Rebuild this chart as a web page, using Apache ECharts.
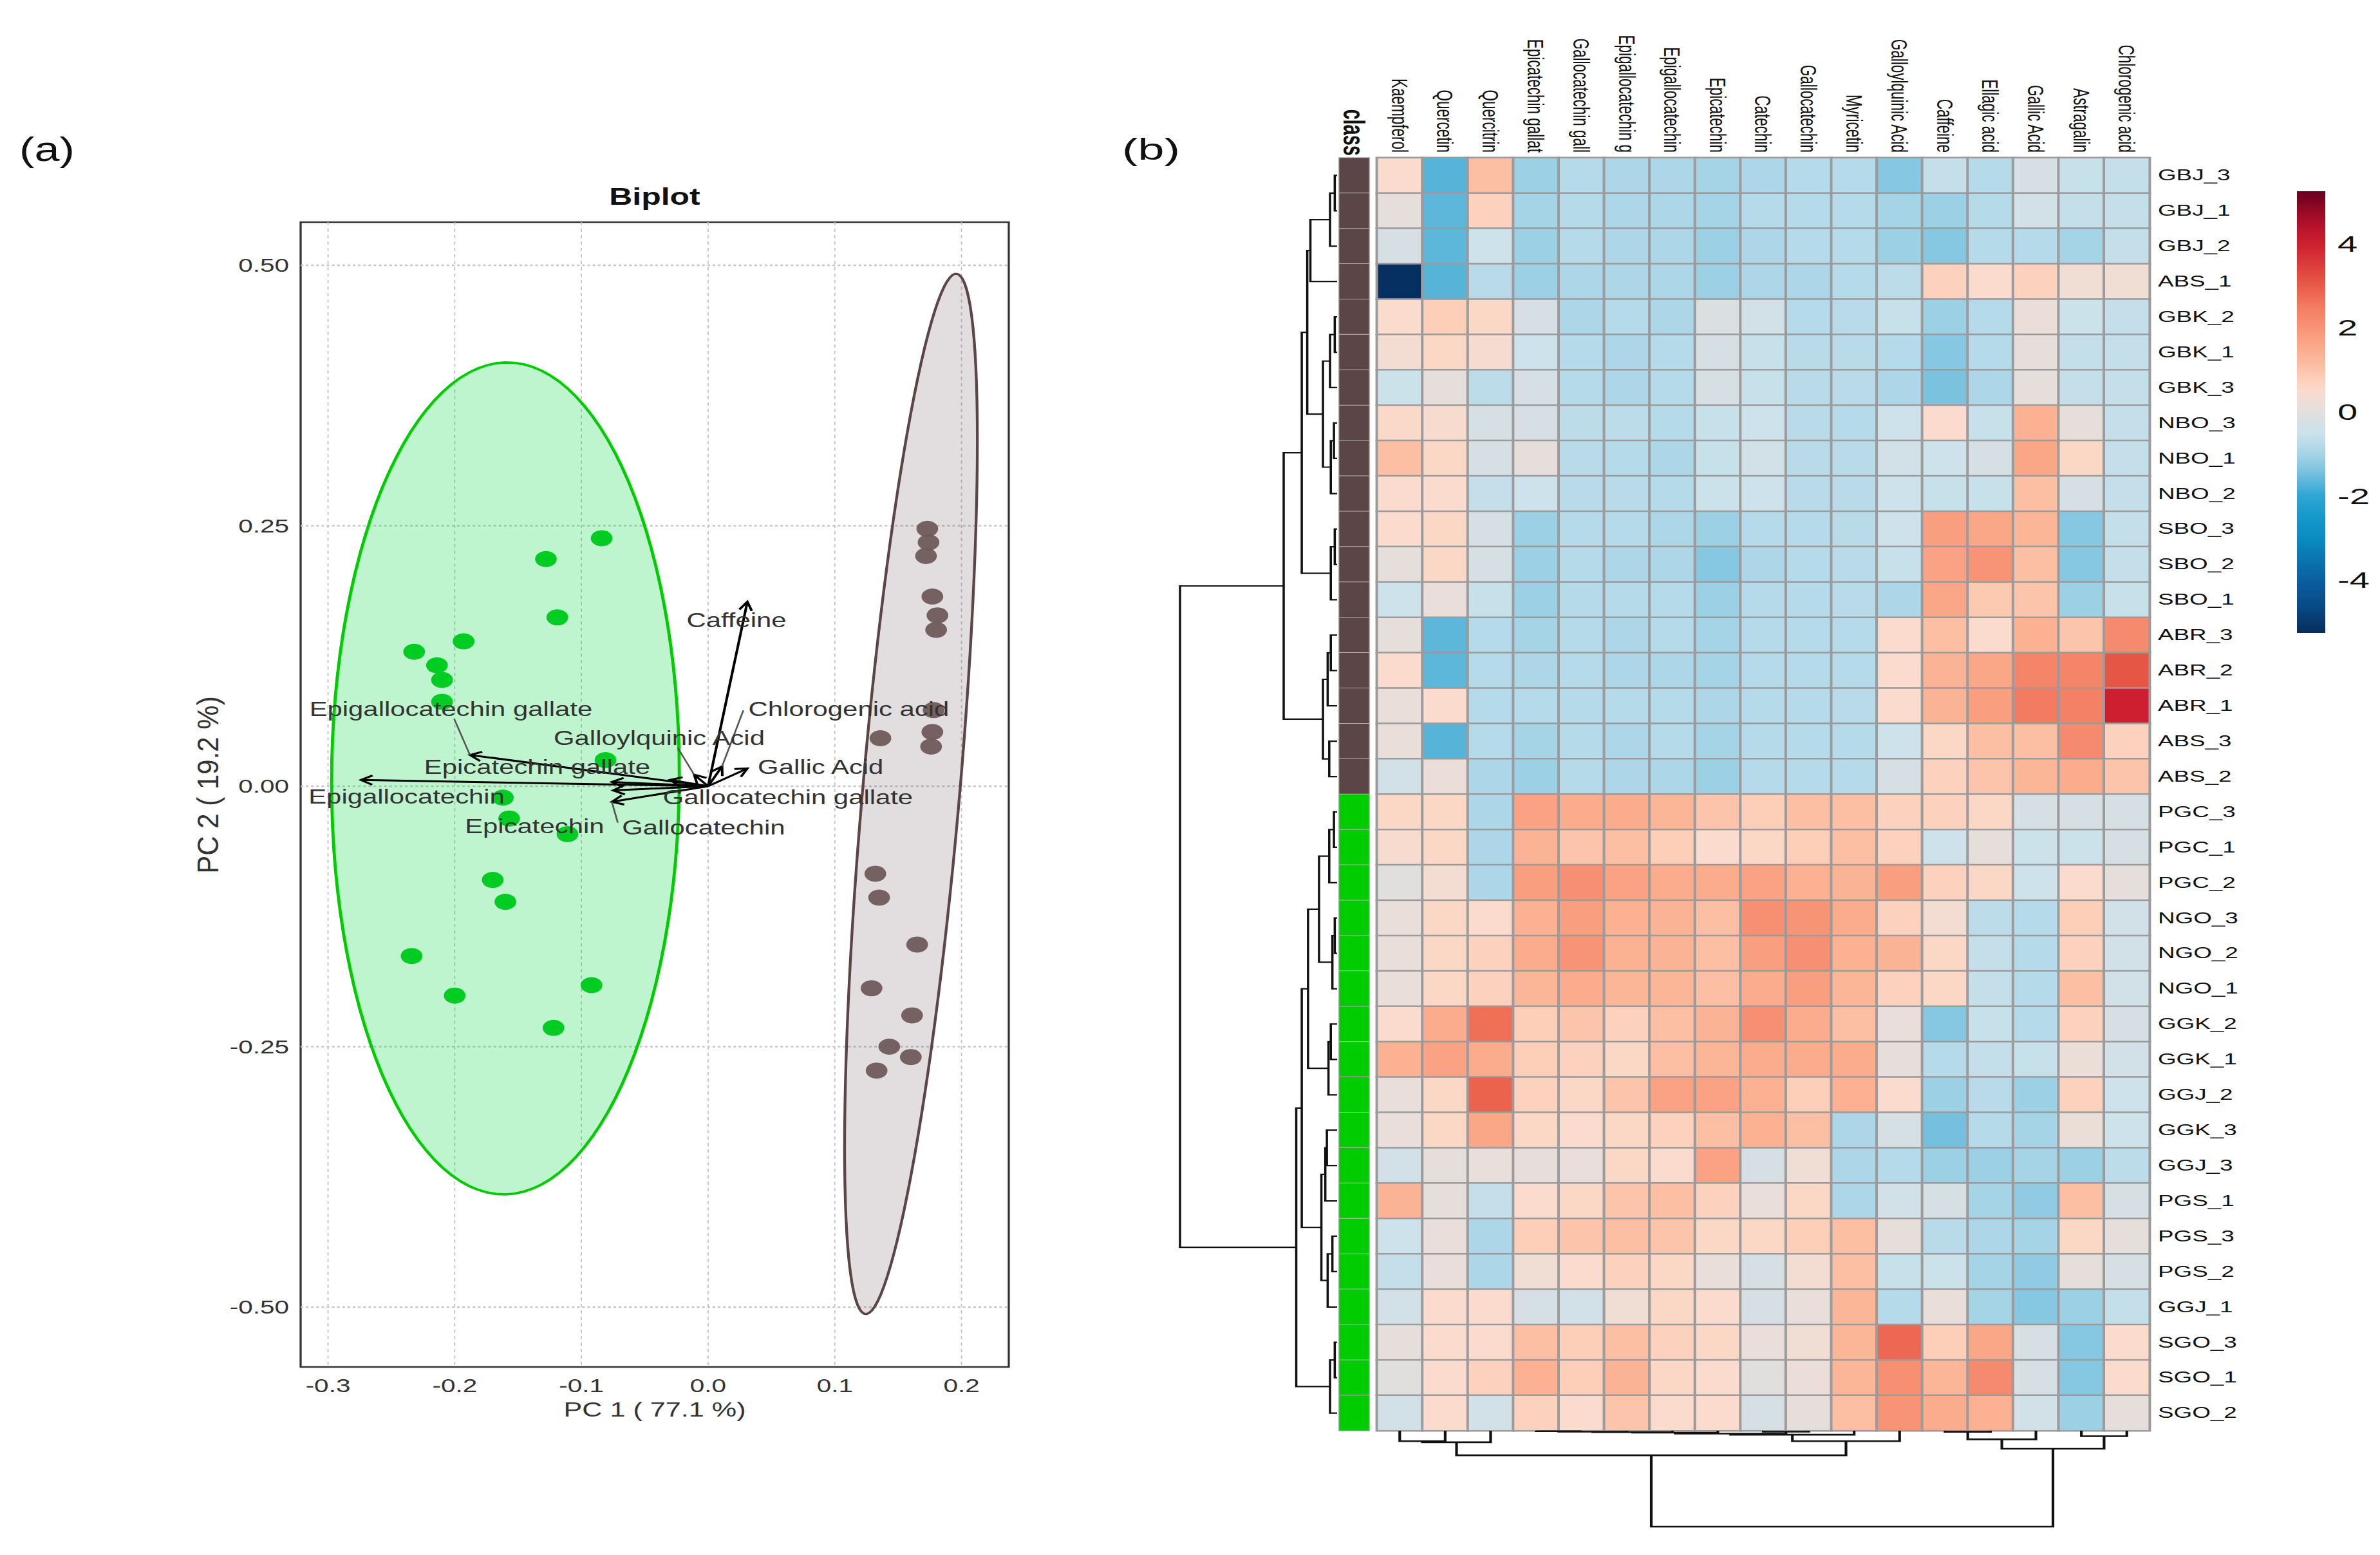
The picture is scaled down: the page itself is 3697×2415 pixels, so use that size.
<!DOCTYPE html>
<html>
<head>
<meta charset="utf-8">
<title>PCA biplot and clustered heatmap</title>
<script src="https://cdn.jsdelivr.net/npm/echarts@6.0.0/dist/echarts.min.js"></script>
<style>
html, body { margin:0; padding:0; background:#ffffff; width:3697px; height:2415px; overflow:hidden; position:relative; }
.panel { position:absolute; top:0; height:2415px; transform-origin:0 0; }
</style>
</head>
<body>
<div id="panelA" class="panel"></div>
<div id="panelB" class="panel"></div>
<script>
// ================= DATA =================
// (a) PCA scores
const pcGreenX = [-0.084,-0.128,-0.119,-0.193,-0.232,-0.214,-0.210,-0.210,-0.081,-0.162,-0.157,-0.111,-0.170,-0.160,-0.234,-0.200,-0.092,-0.122];
const pcGreenY = [0.238,0.218,0.162,0.139,0.129,0.116,0.102,0.081,0.025,-0.011,-0.031,-0.046,-0.090,-0.111,-0.163,-0.201,-0.191,-0.232];
const pcBrownX = [0.173,0.174,0.172,0.177,0.181,0.180,0.178,0.177,0.176,0.136,0.132,0.135,0.165,0.129,0.161,0.143,0.160,0.133];
const pcBrownY = [0.247,0.234,0.221,0.182,0.164,0.150,0.073,0.052,0.038,0.046,-0.084,-0.107,-0.152,-0.194,-0.220,-0.250,-0.260,-0.273];
// 95% normal ellipse: F quantile qf(0.95, 2, n-1) with n = 18
const ellipseF = 3.5915;

// (a) variable loadings (arrow tips) and repelled label positions
const loadNames = ['Caffeine','Chlorogenic acid','Galloylquinic Acid','Gallic Acid','Gallocatechin gallate','Gallocatechin','Epicatechin','Epigallocatechin','Epicatechin gallate','Epigallocatechin gallate'];
const loadX = [0.031, 0.011, -0.011, 0.031, -0.030, -0.076, -0.075, -0.274, -0.076, -0.188];
const loadY = [0.177, 0.019, 0.011, 0.017, 0.006, -0.015, -0.004, 0.006, 0.004, 0.030];
const labelX = [0.0224, 0.111, -0.0386, 0.0888, 0.063, -0.0036, -0.137, -0.238, -0.1349, -0.203];
const labelY = [0.159, 0.0737, 0.046, 0.018, -0.011, -0.0396, -0.0384, -0.0105, 0.018, 0.0737];
// label connector start points (null = no connector)
const segX = [null, 0.0278, -0.0239, null, null, -0.0713, null, null, null, -0.2004];
const segY = [null, 0.0727, 0.0367, null, null, -0.035, null, null, null, 0.0646];

// (a) axes
const pcXMin = -0.3216, pcXMax = 0.2373, pcYMin = -0.5575, pcYMax = 0.5414;
const pcXTicks = [-0.3, -0.2, -0.1, 0, 0.1, 0.2];
const pcYTicks = [-0.5, -0.25, 0, 0.25, 0.5];

// (b) heatmap
const rowNames = ['GBJ_3','GBJ_1','GBJ_2','ABS_1','GBK_2','GBK_1','GBK_3','NBO_3','NBO_1','NBO_2','SBO_3','SBO_2','SBO_1','ABR_3','ABR_2','ABR_1','ABS_3','ABS_2','PGC_3','PGC_1','PGC_2','NGO_3','NGO_2','NGO_1','GGK_2','GGK_1','GGJ_2','GGK_3','GGJ_3','PGS_1','PGS_3','PGS_2','GGJ_1','SGO_3','SGO_1','SGO_2'];
const rowClass = [0,0,0,0,0,0,0,0,0,0,0,0,0,0,0,0,0,0, 1,1,1,1,1,1,1,1,1,1,1,1,1,1,1,1,1,1];
const colNames = ['Kaempferol','Quercetin','Quercitrin','Epicatechin gallat','Gallocatechin gall','Epigallocatechin g','Epigallocatechin','Epicatechin','Catechin','Gallocatechin','Myricetin','Galloylquinic Acid','Caffeine','Ellagic acid','Gallic Acid','Astragalin','Chlorogenic acid'];
const heatValues = [
  [0.5,-1.7,1.1,-1.1,-0.8,-0.9,-0.9,-1.0,-0.9,-0.8,-0.8,-1.3,-0.6,-0.8,-0.25,-0.55,-0.6],
  [0.1,-1.65,0.7,-1.0,-0.8,-0.9,-0.9,-1.0,-0.8,-0.8,-0.8,-1.0,-1.1,-0.8,-0.35,-0.6,-0.6],
  [-0.25,-1.65,-0.45,-1.1,-0.8,-0.9,-0.9,-1.1,-0.9,-0.8,-0.8,-1.1,-1.3,-0.8,-0.8,-1.0,-0.6],
  [-5.2,-1.7,-0.75,-1.1,-0.9,-0.9,-0.9,-1.1,-0.9,-0.9,-0.8,-0.7,0.7,0.5,0.7,0.3,0.3],
  [0.5,0.8,0.6,-0.25,-0.9,-0.8,-0.9,-0.15,-0.35,-0.8,-0.75,-0.55,-1.1,-0.8,0.2,-0.5,-0.6],
  [0.35,0.6,0.4,-0.45,-0.8,-0.9,-0.8,-0.25,-0.55,-0.75,-0.75,-0.8,-1.3,-0.8,0.1,-0.6,-0.6],
  [-0.5,0.1,-0.7,-0.25,-0.8,-0.9,-0.8,-0.25,-0.55,-0.75,-0.75,-0.9,-1.4,-0.9,0.1,-0.6,-0.6],
  [0.55,0.45,-0.25,-0.25,-0.7,-0.7,-0.8,-0.55,-0.45,-0.75,-0.8,-0.45,0.5,-0.55,1.4,0.1,-0.6],
  [1.1,0.6,-0.25,0.1,-0.75,-0.8,-0.9,-0.55,-0.35,-0.75,-0.75,-0.35,-0.45,-0.25,1.6,0.6,-0.6],
  [0.5,0.5,-0.6,-0.45,-0.75,-0.75,-0.8,-0.5,-0.45,-0.75,-0.75,-0.45,-0.55,-0.55,1.1,-0.25,-0.6],
  [0.5,0.6,-0.25,-1.1,-0.8,-0.8,-0.9,-1.1,-0.8,-0.8,-0.75,-0.45,1.8,1.6,1.3,-1.3,-0.6],
  [0.1,0.6,-0.25,-1.1,-0.8,-0.9,-0.9,-1.3,-0.9,-0.8,-0.75,-0.55,1.7,2.0,1.1,-1.3,-0.6],
  [-0.45,0.15,-0.55,-1.1,-0.8,-0.8,-0.8,-1.1,-0.8,-0.8,-0.75,-0.9,1.6,0.9,1.0,-1.1,-0.55],
  [0.1,-1.65,-0.8,-1.0,-0.8,-0.9,-0.8,-1.0,-0.8,-0.8,-0.8,0.5,1.1,0.5,1.4,1.0,2.2],
  [0.5,-1.65,-0.8,-0.9,-0.8,-0.9,-0.9,-1.0,-0.8,-0.8,-0.8,0.5,1.35,1.6,2.3,2.3,3.1],
  [0.15,0.5,-0.8,-0.8,-0.8,-0.8,-0.8,-0.9,-0.8,-0.8,-0.75,0.5,1.35,1.8,2.5,2.4,4.0],
  [0.15,-1.7,-0.8,-1.0,-0.8,-0.9,-0.8,-1.0,-0.8,-0.8,-0.8,-0.45,0.6,1.1,1.1,2.2,0.7],
  [-0.35,0.2,-0.9,-1.1,-0.8,-0.9,-0.9,-1.1,-0.8,-0.8,-0.8,-0.25,0.7,1.0,1.3,1.5,1.0],
  [0.6,0.6,-0.9,1.7,1.5,1.5,1.3,1.0,0.8,1.1,1.1,0.7,0.7,0.6,-0.25,-0.25,-0.25],
  [0.45,0.6,-0.9,1.35,1.0,1.1,0.8,0.5,0.6,0.8,1.1,0.7,-0.45,0.1,-0.5,-0.5,-0.25],
  [0.0,0.35,-0.9,1.8,2.1,1.7,1.5,1.5,1.7,1.4,1.35,1.8,0.7,0.6,-0.45,0.5,0.1],
  [0.15,0.6,0.5,1.4,1.8,1.4,1.35,1.1,2.1,2.0,1.5,0.7,0.35,-0.7,-0.8,0.8,-0.35],
  [0.15,0.6,0.7,1.5,2.0,1.4,1.35,1.1,1.8,2.1,1.4,1.35,0.6,-0.6,-0.8,0.7,-0.35],
  [0.15,0.6,0.7,1.3,1.5,1.3,1.3,1.1,1.5,1.8,1.3,0.7,0.6,-0.6,-0.8,1.1,-0.35],
  [0.5,1.5,2.7,0.8,1.0,0.7,1.1,1.35,2.1,1.5,1.1,0.15,-1.3,-0.55,-0.8,0.7,-0.25],
  [1.4,1.7,1.5,0.8,0.7,0.6,1.1,1.3,1.5,1.5,1.5,0.1,-0.8,-0.6,-0.55,0.2,-0.35],
  [0.15,0.6,2.9,0.7,0.6,1.0,1.7,1.7,1.4,0.8,1.4,0.5,-1.1,-0.75,-1.1,0.7,-0.45],
  [0.15,0.6,1.6,0.6,0.5,0.6,0.7,1.1,1.4,1.1,-0.9,-0.25,-1.45,-0.8,-1.0,0.2,-0.45],
  [-0.35,0.1,0.15,0.1,0.15,0.6,0.5,1.7,-0.25,0.3,-0.9,-0.8,-1.1,-1.1,-1.0,-1.1,-0.7],
  [1.35,0.1,-0.6,0.5,0.6,1.0,1.1,0.7,0.15,0.6,-0.9,-0.35,-0.25,-1.0,-1.2,1.1,-0.25],
  [-0.45,0.15,-0.9,0.8,1.0,1.1,1.0,0.6,0.6,0.8,1.1,0.1,-0.75,-0.9,-1.0,0.6,0.1],
  [-0.6,0.15,-0.9,0.3,0.5,0.7,0.6,0.15,-0.25,0.35,1.1,-0.55,-0.5,-1.0,-1.2,0.1,-0.25],
  [-0.35,0.5,0.5,-0.25,-0.35,0.3,0.6,0.5,-0.25,0.15,1.3,-0.8,0.15,-1.0,-1.3,-1.1,-0.6],
  [0.1,0.5,0.5,1.1,0.8,1.1,0.7,0.6,0.15,0.3,1.3,2.8,0.8,1.6,-0.25,-1.3,0.5],
  [0.0,0.5,0.7,1.4,0.8,1.35,0.6,0.5,0.0,0.2,1.3,2.1,1.3,2.2,-0.25,-1.3,0.5],
  [-0.35,0.5,-0.35,0.7,0.5,1.0,0.5,0.5,-0.25,0.1,1.1,2.0,1.5,1.4,-0.35,-1.1,0.1]
];
// row dendrogram (hclust-style merges: negative = leaf, positive = earlier merge)
const rowMergeA = [-1, 1, 2, -5, 4, -8, 6, 5, 3, -11, 10, 9, -14, 13, -17, 14, 12, -19, 18, -22, 20, 19, -25, 23, 22, -28, 26, -31, 28, 27, 25, -34, 32, 31, 17];
const rowMergeB = [-2, -3, -4, -6, -7, -9, -10, 7, 8, -12, -13, 11, -15, -16, -18, 15, 16, -20, -21, -23, -24, 21, -26, -27, 24, -29, -30, -32, -33, 29, 30, -35, -36, 33, 34];
const rowMergeH = [1.5, 4.5, 17, 1.5, 4.5, 2, 4, 9, 19, 1.5, 4, 22.5, 4, 6, 5, 9, 34, 2, 5, 1.5, 3, 11.5, 4, 5.5, 18.5, 6.5, 7.5, 3, 6, 10, 22.5, 1.5, 4.5, 26, 100];
// column dendrogram
const colMergeA = [-4, 1, 2, 3, -9, 4, 6, 7, -1, 9, 10, -13, 12, -16, 13, 11];
const colMergeB = [-5, -6, -7, -8, -10, 5, -11, -12, -2, -3, 8, -14, -15, -17, 14, 15];
const colMergeH = [0.5, 1, 1.5, 2, 1, 3, 4.1, 10.9, 10.9, 12, 25.6, 1.1, 9, 5.7, 18.8, 100];
// colour scale
const scaleMin = -5.25, scaleMax = 5.25;
const colorbarTicks = [4, 2, 0, -2, -4];
const paletteStops = [[-5.25,'#062E5E'],[-4.6,'#084A86'],[-4,'#0A5FA0'],[-3,'#0A8BC2'],[-2.5,'#1598CA'],[-2,'#2EA6D3'],[-1.5,'#70BEDD'],[-1,'#A6D4E7'],[-0.5,'#CBE2EB'],[-0.25,'#D6E0E4'],[0,'#E1DFDE'],[0.25,'#EEDDD6'],[0.5,'#FADBCD'],[0.75,'#FDD0BB'],[1,'#FCC4AA'],[1.5,'#FBAC8C'],[2,'#F89476'],[2.5,'#F37B61'],[3,'#E95C48'],[3.5,'#DC3C3B'],[4,'#CD1F2F'],[4.5,'#B0102A'],[5.25,'#67001F']];
const classColors = ['#5C4546', '#00CC00'];

// ================= LAYOUT / STYLE =================
// The reference figure is horizontally stretched; each panel is drawn narrower and stretched back.
const STRETCH_A = 1.35, SPLIT = 1700, STRETCH_B = 1.6;
const pxA = v => v / STRETCH_A;              // reference x-pixels -> panel (a) layout pixels
const pxB = v => (v - SPLIT) / STRETCH_B;    // reference x-pixels -> panel (b) layout pixels
const FONT = 'Liberation Sans, Arial, Helvetica, sans-serif';

const domA = document.getElementById('panelA');
domA.style.left = '0px';
domA.style.width = (SPLIT / STRETCH_A) + 'px';
domA.style.transform = 'scaleX(' + STRETCH_A + ')';
const domB = document.getElementById('panelB');
domB.style.left = SPLIT + 'px';
domB.style.width = ((3697 - SPLIT) / STRETCH_B) + 'px';
domB.style.transform = 'scaleX(' + STRETCH_B + ')';
const chartA = echarts.init(domA, null, {renderer: 'svg'});
const chartB = echarts.init(domB, null, {renderer: 'svg'});

// ---------- helpers ----------
function hexToRgb(h) { return [parseInt(h.substr(1,2),16), parseInt(h.substr(3,2),16), parseInt(h.substr(5,2),16)]; }
function colorAt(v) {
  for (let i = 0; i < paletteStops.length - 1; i++) {
    const a = paletteStops[i], b = paletteStops[i+1];
    if (v <= b[0]) {
      const t = (v - a[0]) / (b[0] - a[0]);
      const ca = hexToRgb(a[1]), cb = hexToRgb(b[1]);
      return 'rgb(' + ca.map((c, k) => Math.round(c + (cb[k] - c) * t)).join(',') + ')';
    }
  }
  return paletteStops[paletteStops.length-1][1];
}
const denseColors = [];
for (let i = 0; i <= 210; i++) denseColors.push(colorAt(scaleMin + (scaleMax - scaleMin) * i / 210));

function ellipsePolygon(xs, ys) {
  const n = xs.length;
  const mx = xs.reduce((s, v) => s + v, 0) / n, my = ys.reduce((s, v) => s + v, 0) / n;
  let sxx = 0, syy = 0, sxy = 0;
  for (let i = 0; i < n; i++) { sxx += (xs[i]-mx)*(xs[i]-mx); syy += (ys[i]-my)*(ys[i]-my); sxy += (xs[i]-mx)*(ys[i]-my); }
  sxx /= (n-1); syy /= (n-1); sxy /= (n-1);
  const r = Math.sqrt(2 * ellipseF);
  const a = Math.sqrt(sxx), b = sxy / a, c = Math.sqrt(syy - b*b);
  const pts = [];
  for (let k = 0; k < 120; k++) {
    const t = 2 * Math.PI * k / 120;
    pts.push([mx + r * Math.cos(t) * a, my + r * (Math.cos(t) * b + Math.sin(t) * c)]);
  }
  return pts;
}
const greenEllipse = ellipsePolygon(pcGreenX, pcGreenY);
const brownEllipse = ellipsePolygon(pcBrownX, pcBrownY);

function buildDendro(A, B, H) {
  const pos = [], hgt = [], items = [];
  const get = i => i < 0 ? [-i - 1, 0] : [pos[i-1], hgt[i-1]];
  for (let k = 0; k < A.length; k++) {
    const a = get(A[k]), b = get(B[k]);
    pos.push((a[0] + b[0]) / 2); hgt.push(H[k]);
    items.push([a[0], a[1], b[0], b[1], H[k]]);
  }
  return items;
}
const rowDendro = buildDendro(rowMergeA, rowMergeB, rowMergeH);
const colDendro = buildDendro(colMergeA, colMergeB, colMergeH);

const heatData = [];
heatValues.forEach((row, r) => row.forEach((v, c) => heatData.push([c, r, v])));
const classData = rowClass.map((k, r) => [0, r, k]);

function txt(x, y, text, size, fill, align, weight) {
  return {type:'text', x:x, y:y, style:{text:text, fontSize:size, fontFamily:FONT, fontWeight:weight || 'normal',
    fill:fill || '#222', textAlign:align || 'center', align:align || 'center',
    textVerticalAlign:'middle', verticalAlign:'middle'}};
}
const hiddenVal = (grid, min, max, inverse) => ({type:'value', gridIndex:grid, min:min, max:max, inverse:!!inverse, show:false});

// y-axis title: rotated; thinned across its height so that after the panel stretch it keeps natural proportions
const yTitle = txt(pxA(323), 1219, 'PC 2 ( 19.2 %)', 42, '#333');
yTitle.rotation = Math.PI / 2;
yTitle.scaleY = 0.8;

// ================= PANEL (a): BIPLOT =================
const optionA = {
  backgroundColor:'#ffffff',
  animation:false,
  textStyle:{fontFamily:FONT},
  graphic:[
    txt(pxA(73), 232, '(a)', 52, '#111'),
    txt(pxA(1017), 305, 'Biplot', 37, '#111', 'center', 'bold'),
    yTitle
  ],
  grid:[{left:pxA(467), top:345, width:pxA(1100), height:1778, show:true, borderColor:'#333', borderWidth:2.4, backgroundColor:'#fff'}],
  xAxis:[{type:'value', min:pcXMin, max:pcXMax,
     axisLine:{show:false}, axisTick:{show:false}, splitLine:{show:false},
     axisLabel:{customValues:pcXTicks, formatter:v => v.toFixed(1), fontSize:30, color:'#333', margin:14},
     name:'PC 1 ( 77.1 %)', nameLocation:'middle', nameGap:50, nameTextStyle:{fontSize:32, color:'#333'}}],
  yAxis:[{type:'value', min:pcYMin, max:pcYMax,
     axisLine:{show:false}, axisTick:{show:false}, splitLine:{show:false},
     axisLabel:{customValues:pcYTicks, formatter:v => v.toFixed(2), fontSize:30, color:'#333', margin:pxA(18)}}],
  series:[
    // grid lines
    {type:'custom', z:1, silent:true,
     data:[...pcXTicks.map(v => [v, 0, 0]), ...pcYTicks.map(v => [0, v, 1])],
     renderItem:(params, api) => {
       const cs = params.coordSys;
       if (api.value(2) === 0) {
         const x = api.coord([api.value(0), 0])[0];
         return {type:'line', shape:{x1:x, y1:cs.y, x2:x, y2:cs.y + cs.height}, style:{stroke:'#c2c2c2', lineWidth:1.3, lineDash:[5,5]}};
       }
       const y = api.coord([0, api.value(1)])[1];
       return {type:'line', shape:{x1:cs.x, y1:y, x2:cs.x + cs.width, y2:y}, style:{stroke:'#c6c6c6', lineWidth:2.6, lineDash:[3,3]}};
     }},
    // confidence ellipses
    {type:'custom', z:2, silent:true,
     data:[[-0.16, 0, 0], [0.16, 0, 1]],
     renderItem:(params, api) => {
       const g = api.value(2);
       const poly = (g === 0 ? greenEllipse : brownEllipse).map(p => api.coord(p));
       return {type:'polygon', shape:{points:poly},
         style: g === 0 ? {fill:'rgba(0,215,60,0.25)', stroke:'#00CC00', lineWidth:3.6}
                        : {fill:'rgba(92,69,70,0.18)', stroke:'#5C4546', lineWidth:3.2}};
     }},
    // scores
    {type:'scatter', z:3, symbol:'circle', symbolSize:25,
     itemStyle:{color:'#00CC22', opacity:1}, data:pcGreenX.map((x, i) => [x, pcGreenY[i]])},
    {type:'scatter', z:3, symbol:'circle', symbolSize:25,
     itemStyle:{color:'#6F5A5B', opacity:0.95}, data:pcBrownX.map((x, i) => [x, pcBrownY[i]])},
    // loading arrows
    {type:'custom', z:4, silent:true,
     data:loadX.map((x, i) => [x, loadY[i]]),
     renderItem:(params, api) => {
       const o = api.coord([0, 0]);
       const p = api.coord([api.value(0), api.value(1)]);
       const ang = Math.atan2(p[1] - o[1], p[0] - o[0]);
       const L = 15, sp = 0.5;
       const h1 = [p[0] - L * Math.cos(ang - sp), p[1] - L * Math.sin(ang - sp)];
       const h2 = [p[0] - L * Math.cos(ang + sp), p[1] - L * Math.sin(ang + sp)];
       return {type:'group', children:[
         {type:'line', shape:{x1:o[0], y1:o[1], x2:p[0], y2:p[1]}, style:{stroke:'#000', lineWidth:3}},
         {type:'polyline', shape:{points:[h1, p, h2]}, style:{stroke:'#000', lineWidth:3, fill:null}}
       ]};
     }},
    // label connectors
    {type:'custom', z:5, silent:true,
     data:segX.map((x, i) => x === null ? null : [x, segY[i], loadX[i], loadY[i]]).filter(d => d),
     renderItem:(params, api) => {
       const a = api.coord([api.value(0), api.value(1)]);
       const b = api.coord([api.value(2), api.value(3)]);
       return {type:'line', shape:{x1:a[0], y1:a[1], x2:b[0], y2:b[1]}, style:{stroke:'#555', lineWidth:2}};
     }},
    // variable labels
    {type:'custom', z:6, silent:true,
     data:labelX.map((x, i) => [x, labelY[i], i]),
     renderItem:(params, api) => {
       const p = api.coord([api.value(0), api.value(1)]);
       return txt(p[0], p[1], loadNames[api.value(2)], 31, '#333');
     }}
  ]
};

// ================= PANEL (b): HEATMAP =================
const optionB = {
  backgroundColor:'#ffffff',
  animation:false,
  textStyle:{fontFamily:FONT},
  graphic:[ txt(pxB(1788), 232, '(b)', 46, '#111') ],
  grid:[
    {left:pxB(2080), top:245, width:47 / STRETCH_B, height:1977},
    {left:pxB(2139), top:245, width:1200 / STRETCH_B, height:1977},
    {left:pxB(1833), top:245, width:244 / STRETCH_B, height:1977},
    {left:pxB(2139), top:2222, width:1200 / STRETCH_B, height:149},
    {left:pxB(3568), top:297, width:44 / STRETCH_B, height:686}
  ],
  xAxis:[
    {type:'category', gridIndex:0, data:['class'], position:'top',
     axisLine:{show:false}, axisTick:{show:false},
     axisLabel:{rotate:90, fontSize:29, fontWeight:'bold', color:'#111', margin:3}},
    {type:'category', gridIndex:1, data:colNames, position:'top',
     axisLine:{show:false}, axisTick:{show:false}, splitLine:{show:false},
     axisLabel:{rotate:90, interval:0, fontSize:22.5, color:'#111', margin:8}},
    hiddenVal(2, 0, 100, true),
    hiddenVal(3, -0.5, 16.5),
    hiddenVal(4, 0, 1)
  ],
  yAxis:[
    {type:'category', gridIndex:0, data:rowNames, inverse:true, show:false},
    {type:'category', gridIndex:1, data:rowNames, inverse:true, position:'right',
     axisLine:{show:false}, axisTick:{show:false},
     axisLabel:{interval:0, fontSize:23, color:'#111', margin:13 / STRETCH_B}},
    hiddenVal(2, -0.5, 35.5, true),
    hiddenVal(3, 0, 100, true),
    hiddenVal(4, scaleMin, scaleMax)
  ],
  visualMap:[
    {type:'continuous', seriesIndex:1, dimension:2, min:scaleMin, max:scaleMax, show:false, inRange:{color:denseColors}},
    {type:'piecewise', seriesIndex:0, dimension:2, show:false,
     pieces:[{value:0, color:classColors[0]}, {value:1, color:classColors[1]}]}
  ],
  series:[
    // class annotation column
    {type:'heatmap', xAxisIndex:0, yAxisIndex:0, data:classData, silent:true,
     itemStyle:{borderColor:'#b4b4b4', borderWidth:1}},
    // main heatmap
    {type:'heatmap', xAxisIndex:1, yAxisIndex:1, data:heatData, silent:true,
     itemStyle:{borderColor:'#9b9b9b', borderWidth:2.5}},
    // row dendrogram
    {type:'custom', xAxisIndex:2, yAxisIndex:2, silent:true, data:rowDendro,
     renderItem:(params, api) => {
       const pa = api.value(0), ha = api.value(1), pb = api.value(2), hb = api.value(3), h = api.value(4);
       return {type:'polyline', shape:{points:[api.coord([ha, pa]), api.coord([h, pa]), api.coord([h, pb]), api.coord([hb, pb])]},
               style:{stroke:'#111', lineWidth:2.2, fill:null}};
     }},
    // column dendrogram
    {type:'custom', xAxisIndex:3, yAxisIndex:3, silent:true, data:colDendro,
     renderItem:(params, api) => {
       const pa = api.value(0), ha = api.value(1), pb = api.value(2), hb = api.value(3), h = api.value(4);
       return {type:'polyline', shape:{points:[api.coord([pa, ha]), api.coord([pa, h]), api.coord([pb, h]), api.coord([pb, hb])]},
               style:{stroke:'#111', lineWidth:2.6, fill:null}};
     }},
    // colour bar
    {type:'custom', xAxisIndex:4, yAxisIndex:4, silent:true, data:[[0, 0]],
     renderItem:(params, api) => {
       const p0 = api.coord([0, scaleMin]), p1 = api.coord([1, scaleMax]);
       const stops = paletteStops.map(s => ({offset:(s[0] - scaleMin) / (scaleMax - scaleMin), color:s[1]}));
       const children = [{type:'rect', shape:{x:p0[0], y:p1[1], width:p1[0] - p0[0], height:p0[1] - p1[1]},
         style:{fill:new echarts.graphic.LinearGradient(0, 1, 0, 0, stops)}}];
       colorbarTicks.forEach(v => {
         const y = api.coord([0, v])[1];
         children.push(txt(p1[0] + 19 / STRETCH_B, y, String(v), 35, '#111', 'left'));
       });
       return {type:'group', children:children};
     }}
  ]
};
chartA.setOption(optionA);
chartB.setOption(optionB);
</script>
</body>
</html>
